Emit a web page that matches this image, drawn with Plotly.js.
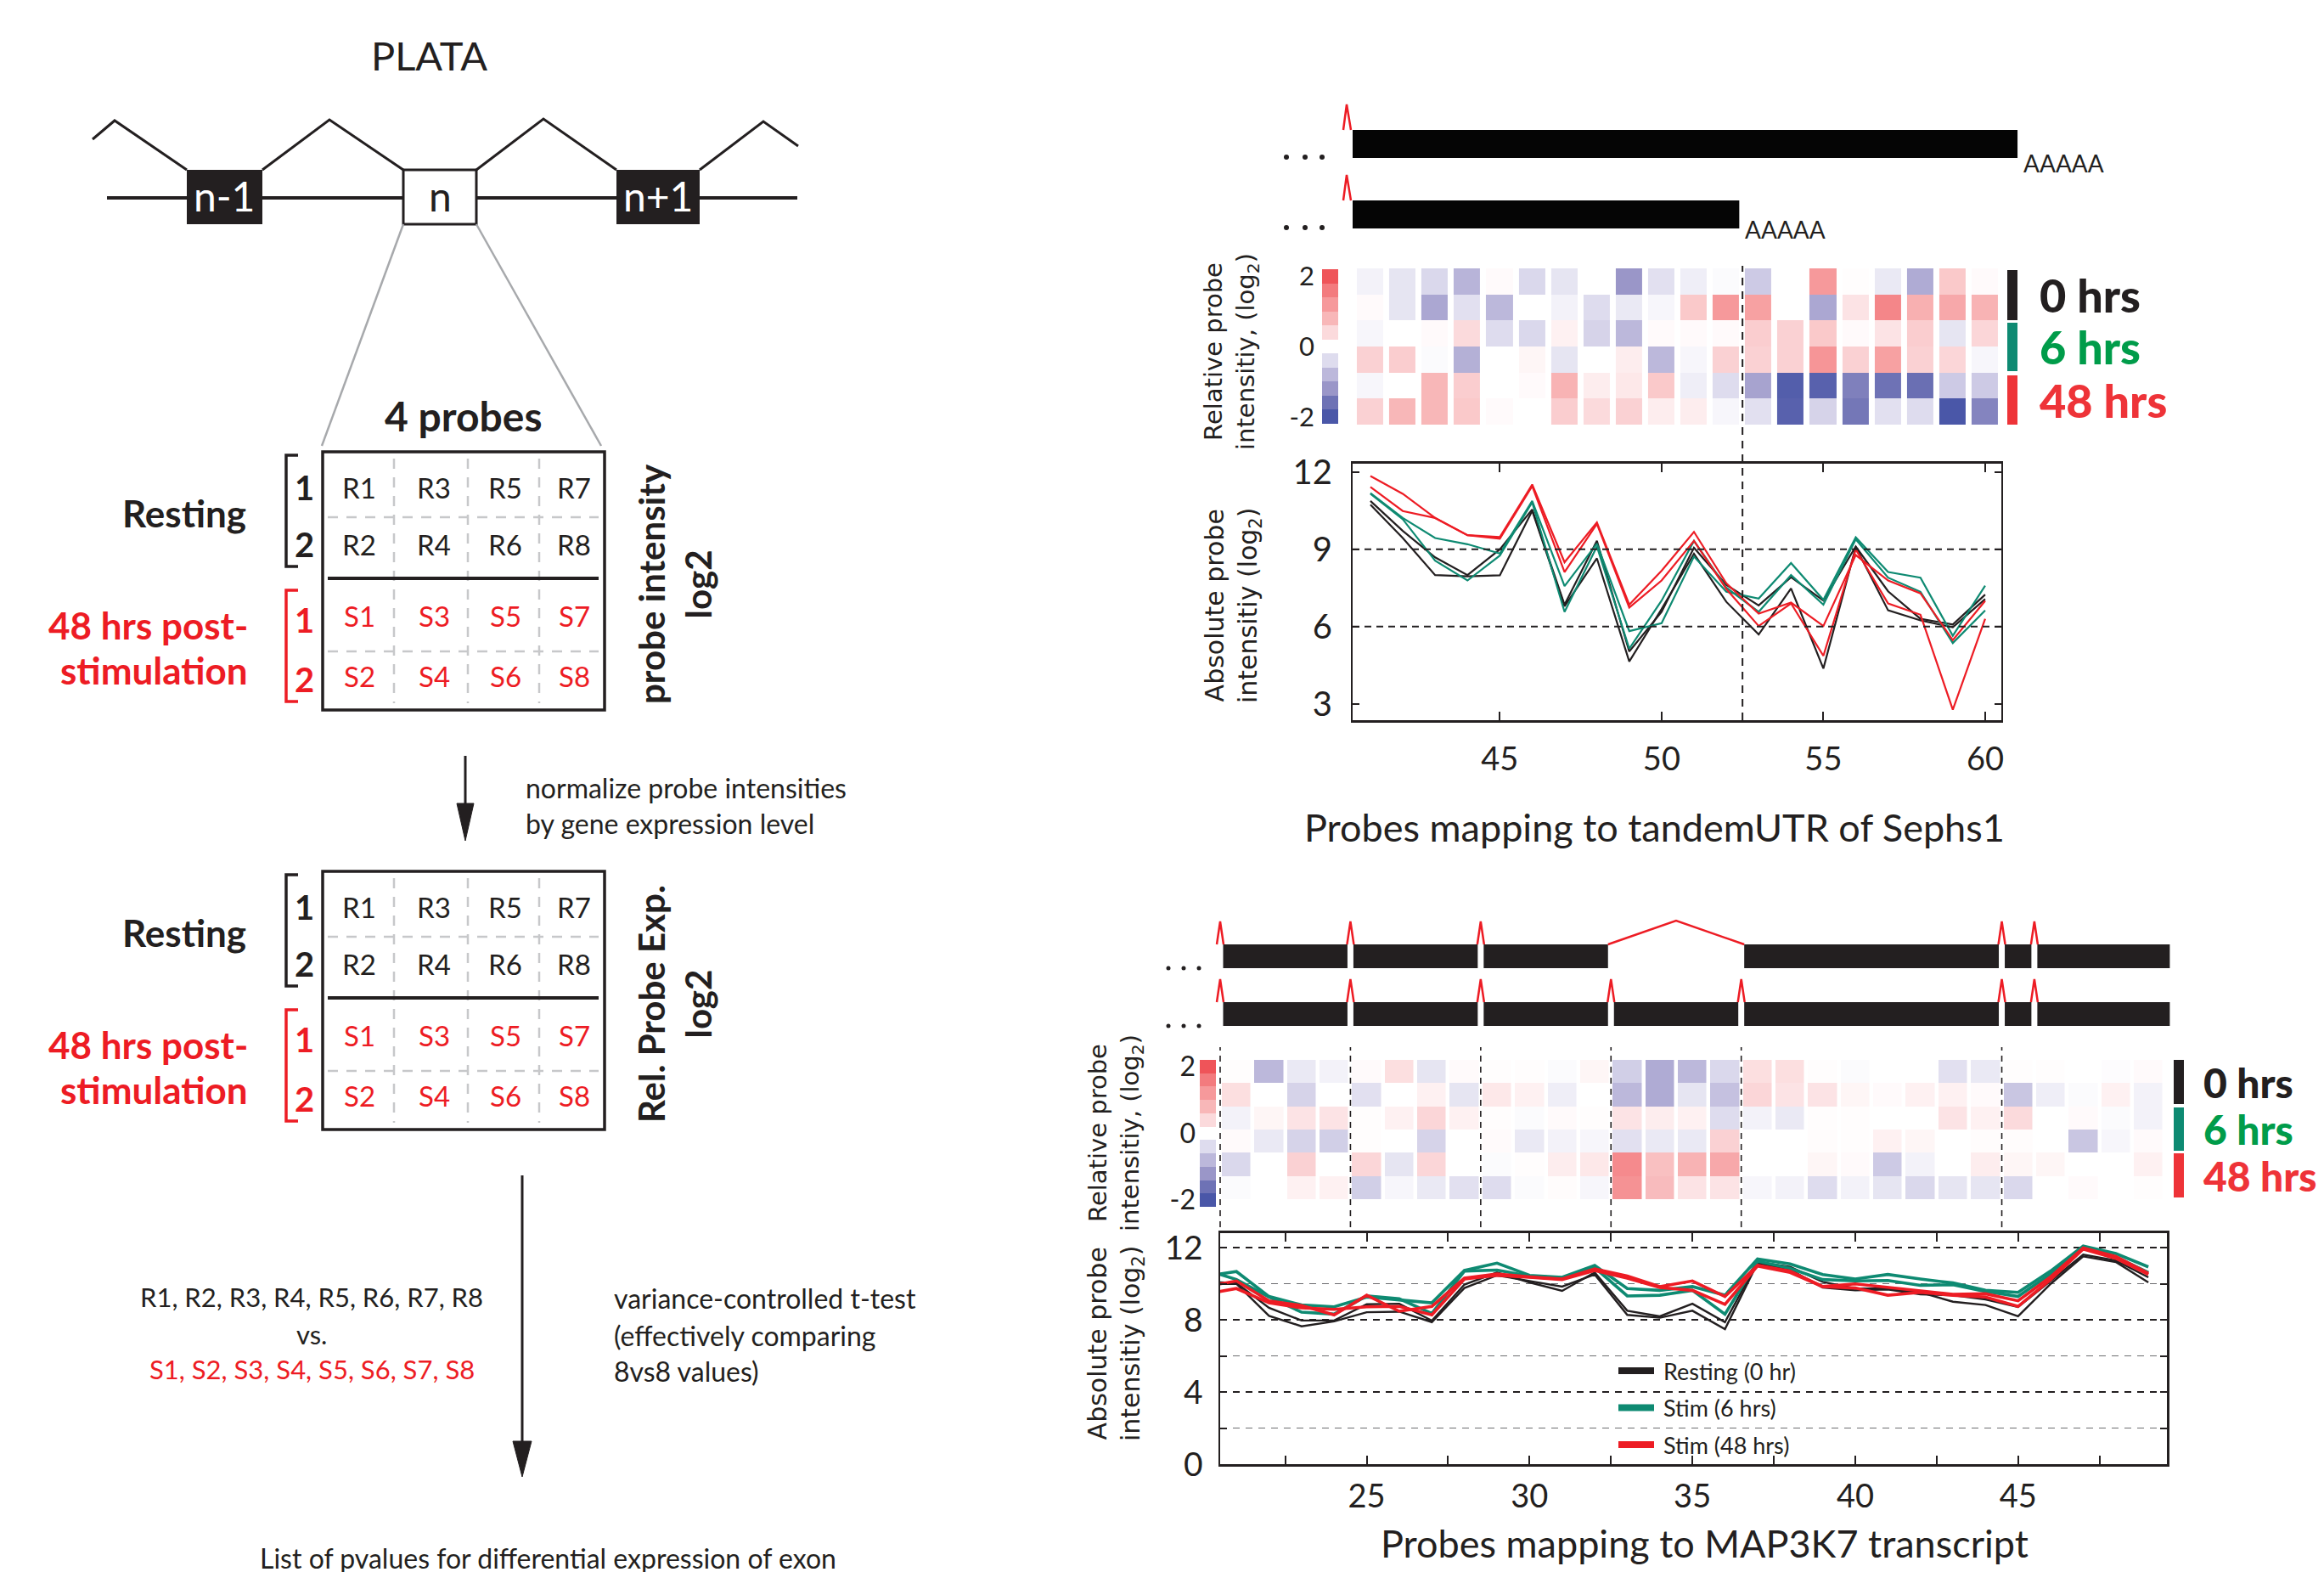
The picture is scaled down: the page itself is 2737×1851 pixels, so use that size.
<!DOCTYPE html>
<html><head><meta charset="utf-8">
<script src="https://cdn.plot.ly/plotly-3.0.1.min.js"></script>
<style>html,body{margin:0;padding:0;background:#fff;overflow:hidden}</style>
</head><body><div id="chart" style="width:2737px;height:1851px"></div>
<script>
// ---------------- DATA ----------------
// Sephs1 tandem UTR (probes 41..60)
const sephs1Probes = [41,42,43,44,45,46,47,48,49,50,51,52,53,54,55,56,57,58,59,60];
const sephs1Rest1  = [10.88,9.72,8.69,8.00,9.00,10.55,6.85,9.33,5.03,6.57,9.06,7.62,6.82,7.92,7.01,9.11,7.37,6.30,6.08,7.24];
const sephs1Rest2  = [10.74,9.44,8.00,7.95,7.99,10.50,6.79,8.65,4.64,6.68,8.83,6.96,5.69,7.48,4.37,9.09,6.63,6.24,5.97,7.07];
const sephs1Stim6a = [11.19,10.22,9.44,9.20,8.84,10.88,7.57,9.22,5.82,6.13,8.72,7.35,7.09,8.47,7.04,9.47,8.12,7.90,5.64,7.59];
const sephs1Stim6b = [11.16,10.17,8.56,7.79,8.76,10.83,6.57,9.11,5.14,7.01,9.33,7.51,6.57,8.00,6.85,9.39,7.90,7.35,5.36,6.63];
const sephs1Stim48a= [11.85,11.16,10.22,9.55,9.48,11.52,8.50,10.05,6.85,8.17,9.68,7.68,6.50,6.93,6.02,8.78,7.79,7.29,5.47,7.00];
const sephs1Stim48b= [11.43,10.49,10.22,9.55,9.41,11.46,8.12,9.99,6.74,7.79,9.33,7.46,6.02,6.90,4.86,9.00,6.90,6.46,2.77,6.30];
// relative probe intensity (rows: 0h a, 0h b, 6h a, 6h b, 48h a, 48h b)
const sephs1Rel0hA = [-0.15,-0.3,-0.45,-0.85,0.05,-0.45,-0.3,0.0,-1.2,-0.35,-0.2,-0.05,-0.6,0.0,1.2,0.02,-0.25,-0.95,0.6,0.05];
const sephs1Rel0hB = [0.05,-0.3,-1.0,-0.35,-0.8,0.0,-0.15,-0.4,-0.25,-0.1,0.6,1.2,1.1,0.0,-1.0,0.3,1.45,0.9,1.0,0.85];
const sephs1Rel6hA = [-0.1,0.0,0.05,0.4,-0.4,-0.45,0.15,-0.5,-0.8,0.05,0.05,0.05,0.55,0.5,0.6,0.05,0.3,0.55,-0.3,0.45];
const sephs1Rel6hB = [0.5,0.55,-0.05,-0.9,0.0,0.1,-0.3,0.0,0.2,-0.8,-0.1,0.5,0.5,0.5,1.25,0.5,1.1,0.5,0.45,-0.1];
const sephs1Rel48hA= [-0.1,0.0,0.8,0.55,0.0,0.05,0.85,0.2,0.25,0.6,-0.2,-0.4,-1.05,-1.9,-1.85,-1.45,-1.6,-1.65,-0.6,-0.6];
const sephs1Rel48hB= [0.5,0.8,0.8,0.6,0.05,0.0,0.55,0.4,0.5,0.2,0.2,-0.1,-0.35,-1.85,-0.5,-1.55,-0.35,-0.4,-2.0,-1.4];
const sephs1UtrBoundary = 52.5;
const sephs1IsoformStart = 40.45;
const sephs1IsoformEnds = [61.0, 52.4];

// MAP3K7 transcript (probes 20..49 for lines, 21..49 for heatmap)
const map3k7LineProbes = [20,21,22,23,24,25,26,27,28,29,30,31,32,33,34,35,36,37,38,39,40,41,42,43,44,45,46,47,48,49];
const map3k7Rest1  = [10.10,10.04,8.66,7.96,7.96,8.86,8.89,7.95,9.95,10.62,10.07,9.60,10.62,8.50,8.19,8.89,7.87,11.20,10.93,10.10,9.73,9.73,9.52,9.00,8.82,8.19,9.99,11.51,11.20,10.07];
const map3k7Rest2  = [9.99,9.99,8.22,7.64,7.91,8.42,8.45,7.87,9.76,10.46,10.15,9.84,10.51,8.27,8.11,8.50,7.48,11.14,10.78,9.79,9.63,9.68,9.41,9.36,9.13,8.71,10.15,11.61,11.29,10.35];
const map3k7Stim6a = [10.41,10.67,9.29,8.82,8.72,9.26,9.10,8.94,10.73,11.14,10.46,10.35,11.01,9.73,9.63,9.84,9.36,11.37,11.09,10.51,10.26,10.51,10.26,10.04,9.63,9.52,10.70,12.08,11.67,10.93];
const map3k7Stim6b = [10.79,10.23,9.26,8.42,8.31,9.32,9.16,8.35,10.70,10.75,10.42,10.31,10.89,9.32,9.36,9.63,8.31,11.25,10.85,10.23,10.15,10.18,9.91,9.94,9.57,9.29,10.54,12.03,11.48,10.62];
const map3k7Stim48a= [9.83,10.15,9.05,8.79,8.27,9.36,8.47,8.74,10.31,10.54,10.38,10.26,10.82,10.42,9.84,10.15,9.29,11.01,10.70,9.84,9.99,9.79,9.57,9.41,9.44,9.05,10.38,11.98,11.51,10.57];
const map3k7Stim48b= [9.41,9.73,8.94,8.66,8.58,8.72,8.74,8.27,10.26,10.46,10.35,10.23,10.73,10.31,9.79,9.63,8.85,10.98,10.62,9.84,9.76,9.36,9.52,9.36,9.26,8.74,10.23,11.92,11.40,10.51];
const map3k7HeatProbes = [21,22,23,24,25,26,27,28,29,30,31,32,33,34,35,36,37,38,39,40,41,42,43,44,45,46,47,48,49];
const map3k7Rel0hA = [0.02,-0.8,-0.25,-0.15,0.05,0.35,-0.3,0.05,0.02,0.02,-0.05,0.1,-0.55,-0.95,-0.8,-0.45,0.35,0.35,0.02,-0.05,0,0,-0.35,-0.25,0.02,0.02,0,-0.03,0.05];
const map3k7Rel0hB = [0.35,0,-0.5,0,-0.35,0,0.15,-0.3,0.25,0.15,-0.2,0,-0.8,-0.95,-0.3,-0.7,0.45,0.3,0.3,0.1,0.05,0.15,0.15,0.05,-0.65,-0.2,-0.05,0.15,-0.15];
const map3k7Rel6hA = [-0.15,0.1,0.3,0.3,0.02,0.15,0.45,0.15,0.02,-0.05,0.05,0.02,0.3,0.2,0.15,-0.4,-0.15,-0.25,0.02,0.02,0,0,0.3,0.15,0.4,0,0.05,-0.05,-0.15];
const map3k7Rel6hB = [0.05,-0.25,-0.5,-0.55,0.02,0,-0.5,0,0.05,-0.25,-0.15,-0.1,-0.35,-0.25,-0.25,0.5,0,0,0.03,0.02,0.15,0.1,0,0.03,0.03,0,-0.65,-0.1,0.05];
const map3k7Rel48hA= [-0.45,0,0.5,0,0.45,-0.3,0.45,0,-0.05,0.02,0.2,0.25,1.4,0.7,0.85,1.0,0,0,0.1,0.05,-0.6,-0.15,0,0.2,0.1,0.1,0,0,0.15];
const map3k7Rel48hB= [-0.05,0,0.15,0.15,-0.55,-0.1,-0.25,-0.35,-0.4,-0.05,0.03,-0.1,1.3,0.75,0.3,0.3,-0.1,-0.15,-0.4,-0.15,-0.3,-0.45,-0.3,-0.3,-0.45,0,0.05,0,0.02];
// exon structure of MAP3K7 in probe units; the exon at index 3 is skipped in the first isoform
const map3k7ExonStarts = [20.5,24.5,28.5,32.5,36.5,44.5,45.5];
const map3k7ExonEnds   = [24.5,28.5,32.5,36.5,44.5,45.5,49.75];
const map3k7SkippedExon = 3;
const map3k7DashedJunctions = [20.5,24.5,28.5,32.5,36.5,44.5];

const colorbarValues = [2,1.6,1.2,0.8,0.4,0,-0.4,-0.8,-1.2,-1.6,-2];
const sampleRowLabels = [0,1,2,3,4,5];
const legendNames = ['Resting (0 hr)','Stim (6 hrs)','Stim (48 hrs)'];
const timeLabels = ['0 hrs','6 hrs','48 hrs'];

// ---------------- STYLE / HELPERS ----------------
const W = 2737, H = 1851;
const FONT = 'Lato, "Open Sans", sans-serif';
const WIDE = '"DejaVu Sans", Verdana, sans-serif';
const INK = '#231f20', RED = '#ed1c24', TEAL = '#0e8a72', GTXT = '#009c4a', RTXT = '#ee3338';
const PX = x => x / W, PY = y => 1 - y / H;

const T_L = 1593, T_R = 2357, T_RANGE = [40.45, 60.5];
const B_L = 1437, B_R = 2552, B_RANGE = [20.5, 49.57];
const tx = v => T_L + (v - T_RANGE[0]) * (T_R - T_L) / (T_RANGE[1] - T_RANGE[0]);
const bx = v => B_L + (v - B_RANGE[0]) * (B_R - B_L) / (B_RANGE[1] - B_RANGE[0]);

const colorscale = [[0,'#4a57a8'],[0.1,'#6e72b5'],[0.2,'#9a96c8'],[0.3,'#bcb8db'],[0.4,'#dedcee'],[0.5,'#ffffff'],
  [0.6,'#fbdadc'],[0.7,'#f8b7b8'],[0.8,'#f6999b'],[0.9,'#f37b7e'],[1,'#ef5459']];

const shapes = [], ann = [];
function txt(x, y, text, o = {}) {
  ann.push({xref:'paper', yref:'paper', x:PX(x), y:PY(y), text, showarrow:false,
    xanchor:o.xa || 'center', yanchor:o.ya || 'middle', textangle:o.angle || 0, align:o.align || 'center',
    font:{family:o.family || FONT, size:o.size || 32, color:o.color || INK, weight:o.weight || 400}});
}
function ln(x0, y0, x1, y1, color, width, dash) {
  shapes.push({type:'line', xref:'paper', yref:'paper', x0:PX(x0), y0:PY(y0), x1:PX(x1), y1:PY(y1),
    line:{color, width, dash: dash || 'solid'}});
}
function rect(x0, y0, x1, y1, fill, lc, lw) {
  shapes.push({type:'rect', xref:'paper', yref:'paper', x0:PX(x0), y0:PY(y0), x1:PX(x1), y1:PY(y1),
    fillcolor:fill, line:{color:lc || fill, width:lw === undefined ? 0 : lw}});
}
function poly(pts, color, width, fill) {
  const d = pts.map((p, i) => (i ? 'L' : 'M') + PX(p[0]) + ',' + PY(p[1])).join(' ') + (fill ? ' Z' : '');
  shapes.push({type:'path', xref:'paper', yref:'paper', path:d, fillcolor:fill || 'rgba(0,0,0,0)',
    line:{color, width}});
}
function dot(x, y, r, color) {
  shapes.push({type:'circle', xref:'paper', yref:'paper', x0:PX(x-r), y0:PY(y+r), x1:PX(x+r), y1:PY(y-r),
    fillcolor:color, line:{width:0}});
}

// ---------------- LEFT DIAGRAM ----------------
txt(505, 65, 'PLATA', {size:47});
ln(126, 233, 939, 233, INK, 4);
poly([[109,164],[135,142],[220,200]], INK, 3);
poly([[309,200],[388,141],[475,200]], INK, 3);
poly([[561,200],[640,140],[726,200]], INK, 3);
poly([[824,200],[899,143],[940,172]], INK, 3);
rect(220, 200, 309, 264, INK);
rect(475, 200, 561, 264, '#ffffff', INK, 3);
rect(726, 200, 824, 264, INK);
txt(264, 230, 'n-1', {size:48, color:'#ffffff'});
txt(518, 230, 'n', {size:48});
txt(775, 230, 'n+1', {size:48, color:'#ffffff'});
ln(475, 264, 379, 525, '#a7a9ac', 2.5);
ln(561, 264, 708, 525, '#a7a9ac', 2.5);
txt(546, 489, '4 probes', {size:48, weight:700});

function gridBox(dy, title1, title2) {
  const d = dy;
  rect(380, 532+d, 712, 836+d, 'rgba(0,0,0,0)', INK, 3.5);
  [464, 551, 635].forEach(x => ln(x, 540+d, x, 828+d, '#c7c8ca', 2.5, '12px,10px'));
  [609, 767].forEach(y => ln(386, y+d, 705, y+d, '#c7c8ca', 2.5, '12px,10px'));
  ln(386, 681+d, 705, 681+d, INK, 4);
  poly([[351,536+d],[337,536+d],[337,667+d],[351,667+d]], INK, 3.5);
  poly([[351,695+d],[337,695+d],[337,826+d],[351,826+d]], RED, 3.5);
  txt(358, 574+d, '1', {size:40, weight:700});
  txt(358, 641+d, '2', {size:40, weight:700});
  txt(358, 730+d, '1', {size:40, weight:700, color:RED});
  txt(358, 800+d, '2', {size:40, weight:700, color:RED});
  const xs = [423, 511, 595, 676];
  ['R1','R3','R5','R7'].forEach((t,i) => txt(xs[i], 574+d, t, {size:33}));
  ['R2','R4','R6','R8'].forEach((t,i) => txt(xs[i], 641+d, t, {size:33}));
  ['S1','S3','S5','S7'].forEach((t,i) => txt(xs[i], 725+d, t, {size:33, color:RED}));
  ['S2','S4','S6','S8'].forEach((t,i) => txt(xs[i], 796+d, t, {size:33, color:RED}));
  txt(292, 604+d, 'Resting', {size:44, weight:700, xa:'right'});
  txt(294, 736+d, '48 hrs post-', {size:44, weight:700, xa:'right', color:RED});
  txt(294, 789+d, 'stimulation', {size:44, weight:700, xa:'right', color:RED});
  txt(794, 688+d, title1 + '<br>' + title2, {size:42, weight:700, angle:-90});
}
gridBox(0, 'probe intensity', 'log2');
gridBox(494, 'Rel. Probe Exp.', 'log2');

ln(548, 890, 548, 955, INK, 3);
poly([[538,946],[558,946],[548,990]], INK, 1, INK);
txt(617, 948, 'normalize probe intensities<br>by gene expression level', {size:32, xa:'left', align:'left'});

ln(615, 1384, 615, 1705, INK, 3);
poly([[604,1697],[626,1697],[615,1739]], INK, 1, INK);
txt(367, 1527, 'R1, R2, R3, R4, R5, R6, R7, R8', {size:31});
txt(367, 1571, 'vs.', {size:31});
txt(367, 1612, 'S1, S2, S3, S4, S5, S6, S7, S8', {size:31, color:RED});
txt(721, 1528, 'variance-controlled t-test', {size:32, xa:'left'});
txt(721, 1572, '(effectively comparing', {size:32, xa:'left'});
txt(721, 1614, '8vs8 values)', {size:32, xa:'left'});
txt(645, 1834, 'List of pvalues for differential expression of exon', {size:32});

// ---------------- TOP RIGHT: gene model ----------------
const topRows = [[153,186],[236,269]];
const polyAOffset = [6, 1];
sephs1IsoformEnds.forEach((e, i) => {
  const [y0, y1] = topRows[i];
  const s = tx(sephs1IsoformStart);
  rect(s, y0, tx(e), y1, '#050505');
  poly([[s-11, y0],[s-7, y0-30],[s-2, y0]], RED, 2.5);
  [s-78, s-56, s-36].forEach(x => dot(x, y1-1, 3, INK));
  txt(tx(e)+5, y1+polyAOffset[i], 'AAAAA', {size:28, xa:'left'});
});
// vertical dashed boundary
shapes.push({type:'line', xref:'paper', yref:'paper', x0:PX(tx(sephs1UtrBoundary)), x1:PX(tx(sephs1UtrBoundary)),
  y0:PY(848), y1:PY(313), line:{color:INK, width:2, dash:'9px,7px'}});

// ---------------- BOTTOM RIGHT: gene model ----------------
const botRows = [[1112,1140],[1180,1208]];
botRows.forEach(([y0, y1], r) => {
  map3k7ExonStarts.forEach((s, i) => {
    if (r === 0 && i === map3k7SkippedExon) return;
    rect(bx(s)+3.5, y0, bx(map3k7ExonEnds[i])-3.5, y1, INK);
    const showCaret = !(r === 0 && (i === map3k7SkippedExon || i === map3k7SkippedExon+1));
    if (showCaret) poly([[bx(s)-4, y0],[bx(s), y0-27],[bx(s)+4, y0]], RED, 2.5);
  });
  [1376, 1394, 1412].forEach(x => dot(x, y1, 2.5, INK));
});
{
  const a = bx(map3k7ExonEnds[map3k7SkippedExon-1]) - 3.5, b = bx(map3k7ExonStarts[map3k7SkippedExon+1]) + 3.5;
  poly([[a, 1112],[(a+b)/2, 1084],[b, 1112]], RED, 2.5);
}
map3k7DashedJunctions.forEach(j => {
  shapes.push({type:'line', xref:'paper', yref:'paper', x0:PX(bx(j)), x1:PX(bx(j)), y0:PY(1445), y1:PY(1233),
    line:{color:INK, width:1.6, dash:'7px,6px'}});
});

// time labels next to heatmaps
function timeBlock(xBar, rows, xText, size) {
  const cols = [INK, TEAL, RTXT], tcols = [INK, GTXT, RTXT];
  rows.forEach((r, i) => {
    rect(xBar, r[0], xBar+12, r[1], cols[i]);
    txt(xText, (r[0]+r[1])/2, timeLabels[i], {size, weight:900, xa:'left', color:tcols[i]});
  });
}
timeBlock(2364, [[318,377],[380,437],[442,500]], 2400, 54);
timeBlock(2560, [[1248,1300],[1304,1355],[1358,1410]], 2593, 48);

// rotated axis titles
txt(1450, 414, 'Relative probe<br>intensitiy, (log<sub>2</sub>)', {family:WIDE, size:29, angle:-90});
txt(1452, 713, 'Absolute probe<br>intensitiy (log<sub>2</sub>)', {family:WIDE, size:30, angle:-90});
txt(1314, 1334, 'Relative probe<br>intensitiy, (log<sub>2</sub>)', {family:WIDE, size:29, angle:-90});
txt(1314, 1582, 'Absolute probe<br>intensitiy (log<sub>2</sub>)', {family:WIDE, size:30, angle:-90});
txt(1949, 974, 'Probes mapping to tandemUTR of Sephs1', {size:45});
txt(2007, 1817, 'Probes mapping to MAP3K7 transcript', {size:45});

// legend (bottom line chart)
[INK, TEAL, RED].forEach((c, i) => {
  const y = 1614 + i*43.5;
  rect(1906, y-4, 1948, y+4, c);
  txt(1957, y, legendNames[i], {size:27, xa:'left'});
});

// dashed guide lines in top line chart
[6, 9].forEach(v => shapes.push({type:'line', xref:'x domain', yref:'y', x0:0, x1:1, y0:v, y1:v,
  line:{color:INK, width:2, dash:'8px,6px'}}));

// ---------------- TRACES ----------------
const traces = [];
const topSeries = [[sephs1Rest1,INK],[sephs1Rest2,INK],[sephs1Stim6a,TEAL],[sephs1Stim6b,TEAL],[sephs1Stim48a,RED],[sephs1Stim48b,RED]];
topSeries.forEach(([ys, c]) => traces.push({type:'scatter', mode:'lines', x:sephs1Probes, y:ys, xaxis:'x', yaxis:'y',
  line:{color:c, width:2.2}, hoverinfo:'skip', showlegend:false}));
const botSeries = [[map3k7Rest1,INK,2.4],[map3k7Rest2,INK,2.4],[map3k7Stim6a,TEAL,3.6],[map3k7Stim6b,TEAL,3.6],[map3k7Stim48a,RED,3.6],[map3k7Stim48b,RED,3.6]];
botSeries.forEach(([ys, c, w]) => traces.push({type:'scatter', mode:'lines', x:map3k7LineProbes, y:ys, xaxis:'x4', yaxis:'y4',
  line:{color:c, width:w}, hoverinfo:'skip', showlegend:false}));

traces.push({type:'heatmap', x:sephs1Probes, y:sampleRowLabels,
  z:[sephs1Rel0hA,sephs1Rel0hB,sephs1Rel6hA,sephs1Rel6hB,sephs1Rel48hA,sephs1Rel48hB],
  xaxis:'x2', yaxis:'y2', colorscale, zmin:-2, zmax:2, showscale:false, xgap:7, ygap:0, hoverinfo:'skip'});
traces.push({type:'heatmap', x:[0], y:colorbarValues, z:colorbarValues.map(v => [v]),
  xaxis:'x3', yaxis:'y3', colorscale, zmin:-2, zmax:2, showscale:false, xgap:0, ygap:0, hoverinfo:'skip'});
traces.push({type:'heatmap', x:map3k7HeatProbes, y:sampleRowLabels,
  z:[map3k7Rel0hA,map3k7Rel0hB,map3k7Rel6hA,map3k7Rel6hB,map3k7Rel48hA,map3k7Rel48hB],
  xaxis:'x5', yaxis:'y5', colorscale, zmin:-2, zmax:2, showscale:false, xgap:4.5, ygap:0, hoverinfo:'skip'});
traces.push({type:'heatmap', x:[0], y:colorbarValues, z:colorbarValues.map(v => [v]),
  xaxis:'x6', yaxis:'y6', colorscale, zmin:-2, zmax:2, showscale:false, xgap:0, ygap:0, hoverinfo:'skip'});

// ---------------- AXES ----------------
const tickFont = {family:FONT, size:38, color:INK};
const hidden = {visible:false, showgrid:false, zeroline:false, fixedrange:true};
const bTicks = [22.5,25,27.5,30,32.5,35,37.5,40,42.5,45,47.5];
const layout = {
  width:W, height:H, margin:{l:0,r:0,t:0,b:0}, paper_bgcolor:'#ffffff', plot_bgcolor:'rgba(0,0,0,0)',
  showlegend:false, font:{family:FONT, color:INK},
  xaxis:{domain:[PX(T_L),PX(T_R)], range:T_RANGE, anchor:'y', tickvals:[45,50,55,60], ticks:'inside', ticklen:10, tickwidth:2,
    tickcolor:INK, mirror:'ticks', showline:true, linecolor:INK, linewidth:3, showgrid:false, zeroline:false,
    tickfont:tickFont, ticklabelstandoff:10},
  yaxis:{domain:[PY(848),PY(546)], range:[2.36,12.33], anchor:'x', tickvals:[3,6,9,12], ticks:'inside', ticklen:8, tickwidth:2,
    tickcolor:INK, mirror:'ticks', showline:true, linecolor:INK, linewidth:2, showgrid:false, zeroline:false,
    tickfont:{family:FONT, size:40, color:INK}, ticklabelstandoff:14},
  xaxis2:Object.assign({domain:[PX(T_L),PX(T_R)], range:T_RANGE, anchor:'y2'}, hidden),
  yaxis2:Object.assign({domain:[PY(500),PY(316)], range:[5.5,-0.5], anchor:'x2'}, hidden),
  xaxis3:Object.assign({domain:[PX(1557),PX(1576)], range:[-0.5,0.5], anchor:'y3'}, hidden),
  yaxis3:{domain:[PY(499),PY(317)], range:[-2.2,2.2], anchor:'x3', tickvals:[-2,0,2], ticktext:['-2','0','2'],
    ticks:'', showline:false, showgrid:false, zeroline:false, tickfont:{family:FONT, size:31, color:INK}, ticklabelstandoff:8},
  xaxis4:{domain:[PX(B_L),PX(B_R)], range:B_RANGE, anchor:'y4', tickvals:bTicks,
    ticktext:bTicks.map(v => v % 5 === 0 ? String(v) : ' '), ticks:'inside', ticklen:10, tickwidth:2,
    tickcolor:INK, mirror:'ticks', showline:true, linecolor:INK, linewidth:3, showgrid:false, zeroline:false,
    tickfont:tickFont, ticklabelstandoff:2},
  yaxis4:{domain:[PY(1724),PY(1452)], range:[0,12.8], anchor:'x4', tickvals:[0,4,8,12], ticks:'inside', ticklen:8, tickwidth:2,
    tickcolor:INK, mirror:'ticks', showline:true, linecolor:INK, linewidth:2.5, showgrid:true, gridcolor:'#231f20',
    griddash:'8px,7px', gridwidth:1.6, zeroline:false, tickfont:{family:FONT, size:39, color:INK}, ticklabelstandoff:10,
    minor:{tickvals:[2,6,10], showgrid:true, gridcolor:'#6d6e71', griddash:'8px,7px', gridwidth:1.6, ticks:'inside', ticklen:8, tickcolor:INK}},
  xaxis5:Object.assign({domain:[PX(B_L),PX(B_R)], range:B_RANGE, anchor:'y5'}, hidden),
  yaxis5:Object.assign({domain:[PY(1412),PY(1248)], range:[5.5,-0.5], anchor:'x5'}, hidden),
  xaxis6:Object.assign({domain:[PX(1413),PX(1432)], range:[-0.5,0.5], anchor:'y6'}, hidden),
  yaxis6:{domain:[PY(1421),PY(1248)], range:[-2.2,2.2], anchor:'x6', tickvals:[-2,0,2], ticktext:['-2','0','2'],
    ticks:'', showline:false, showgrid:false, zeroline:false, tickfont:{family:FONT, size:32, color:INK}, ticklabelstandoff:4},
  shapes, annotations:ann
};
Plotly.newPlot('chart', traces, layout, {staticPlot:true, displayModeBar:false});
</script>
</body></html>
